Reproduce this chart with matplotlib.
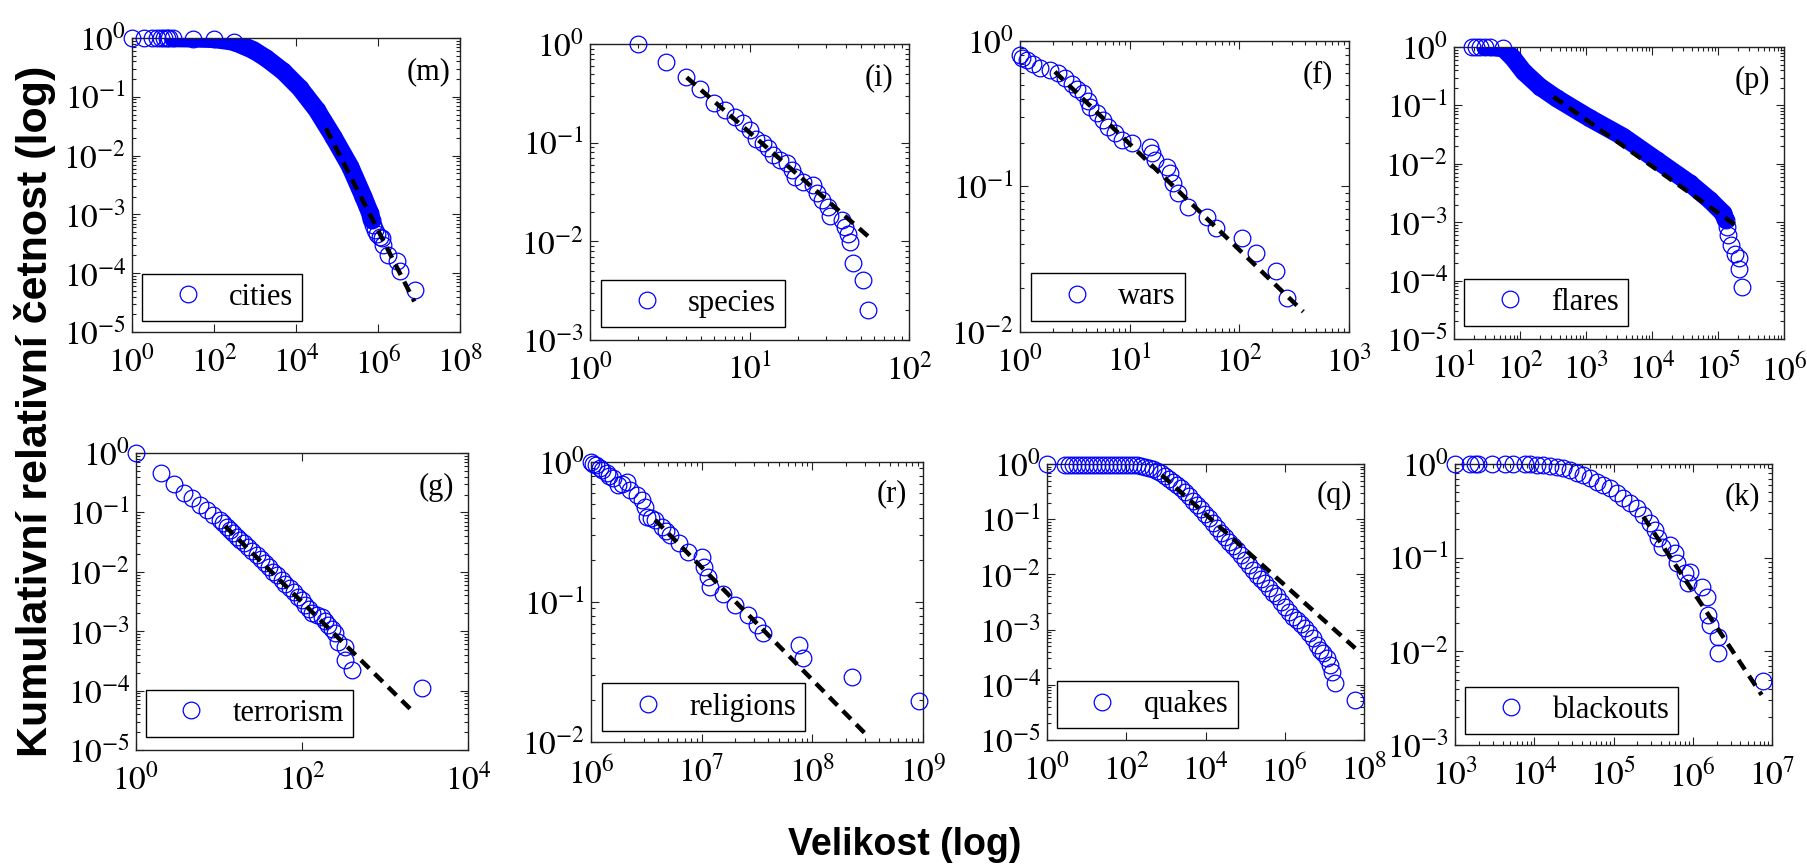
import numpy as np
import matplotlib
matplotlib.use("Agg")
import matplotlib.pyplot as plt
from matplotlib.lines import Line2D
from matplotlib.ticker import LogLocator, FuncFormatter, NullLocator

plt.rcParams['font.family'] = ['Liberation Serif', 'DejaVu Serif']
plt.rcParams['mathtext.fontset'] = 'stix'
plt.rcParams['mathtext.default'] = 'rm'

# cumulative distributions P(X >= x), read per data set
cities_x = [1, 2, 3, 4, 5, 6, 7, 8, 10, 30, 100, 300, 900, 1900, 4900, 12500, 32000, 81000,
            2.1e5, 4.4e5, 6.4e5, 7.0e5, 7.5e5, 8.5e5, 9.5e5, 1.1e6, 1.23e6, 1.35e6, 1.8e6,
            2.9e6, 3.5e6, 8.0e6]
cities_y = [1, 1, 1, 1, 1, 1, 1, 1, 0.99, 0.98, 0.96, 0.865, 0.625, 0.45, 0.27, 0.14, 0.06, 0.021,
            0.0065, 0.002, 0.00105, 8e-4, 6.5e-4, 5.4e-4, 4.6e-4, 4.2e-4, 3.9e-4, 3.0e-4, 2.0e-4,
            1.6e-4, 1.07e-4, 5.1e-5]
cities_fit_x = [5.4e4, 7.7e6]
cities_fit_y = [2.9e-2, 3.3e-5]

species_x = [2.0, 3.0, 4.0, 4.9, 6.0, 7.0, 8.1, 9.1, 10, 11, 12.2, 13.1, 14.1, 15.5, 17.1, 18.4,
             19.3, 21.7, 25.1, 26.4, 28.4, 31.2, 32, 37.8, 39.7, 41.7, 42.7, 44.8, 51.3, 55.6]
species_y = [1.0, 0.65, 0.46, 0.35, 0.255, 0.214, 0.18, 0.16, 0.134, 0.11, 0.099, 0.088, 0.075,
             0.067, 0.062, 0.053, 0.045, 0.040, 0.037, 0.031, 0.026, 0.0224, 0.018, 0.0165,
             0.0141, 0.012, 0.0099, 0.0061, 0.0041, 0.002]
species_fit_x = [4.04, 55.6]
species_fit_y = [0.459, 0.0112]

wars_x = [1.0, 1.04, 1.17, 1.32, 1.52, 1.88, 2.24, 2.57, 2.96, 3.29, 3.78, 4.2, 4.35, 5.0, 5.75,
          6.4, 7.3, 8.5, 10.4, 15.3, 15.9, 17, 21.7, 23.3, 25, 27.8, 34.2, 50.4, 61.2, 106, 141,
          216, 274]
wars_y = [0.80, 0.76, 0.74, 0.70, 0.65, 0.63, 0.60, 0.555, 0.51, 0.47, 0.44, 0.39, 0.35, 0.32,
          0.286, 0.258, 0.232, 0.209, 0.198, 0.188, 0.169, 0.152, 0.137, 0.123, 0.105, 0.0898,
          0.0727, 0.062, 0.0521, 0.044, 0.0347, 0.0264, 0.0172]
wars_fit_x = [2.08, 383]
wars_fit_y = [0.615, 0.0138]

flares_x = [18.5, 21.5, 25, 30, 35, 56, 79, 113, 200, 360, 1150, 3670, 11700, 37700, 75000,
            1.2e5, 1.3e5, 1.35e5, 1.43e5, 1.6e5, 1.8e5, 2.05e5, 2.05e5, 2.3e5]
flares_y = [1, 1, 1, 1, 1, 0.95, 0.64, 0.378, 0.209, 0.132, 0.060, 0.029, 0.0116, 0.0046,
            0.0024, 0.00142, 1.1e-3, 8.4e-4, 6.0e-4, 4.1e-4, 2.9e-4, 2.4e-4, 1.6e-4, 7.9e-5]
flares_fit_x = [320, 2.15e5]
flares_fit_y = [0.141, 7.9e-4]

terror_x = [1, 2.0, 2.9, 3.8, 4.7, 5.9, 7.1, 8.5, 10.3, 11.2, 12.4, 13.6, 14.9, 16.3, 17.9, 20,
            22.6, 25, 28.4, 32, 35.8, 40, 45.2, 50, 56.9, 63, 71.7, 80, 90.3, 100, 109, 120, 131,
            150, 173, 190, 208, 230, 250, 274, 330, 330, 397, 2770]
terror_y = [1, 0.466, 0.30, 0.215, 0.172, 0.133, 0.11, 0.090, 0.0745, 0.066, 0.0575, 0.051,
            0.0445, 0.039, 0.0343, 0.030, 0.0265, 0.022, 0.0192, 0.0165, 0.0139, 0.012, 0.010,
            0.0087, 0.00728, 0.0062, 0.00527, 0.0046, 0.00381, 0.0033, 0.00276, 0.0024, 0.002,
            0.0019, 0.00176, 0.0015, 0.00127, 0.0011, 9.2e-4, 6.7e-4, 5.5e-4, 3.3e-4, 2.2e-4,
            1.12e-4]
terror_fit_x = [11.8, 2300]
terror_fit_y = [0.059, 4.1e-5]

religions_x = [1.01e6, 1.05e6, 1.12e6, 1.2e6, 1.25e6, 1.39e6, 1.45e6, 1.59e6, 1.77e6, 1.9e6,
               2.1e6, 2.25e6, 2.59e6, 2.87e6, 3.08e6, 3.19e6, 3.5e6, 3.8e6, 4.35e6, 4.8e6,
               5.2e6, 6.2e6, 7.6e6, 1.0e7, 1.04e7, 1.15e7, 1.19e7, 1.57e7, 2.0e7, 2.64e7,
               3.14e7, 3.6e7, 7.5e7, 8.3e7, 2.3e8, 9.2e8]
religions_y = [1.0, 0.97, 0.95, 0.91, 0.877, 0.83, 0.79, 0.764, 0.685, 0.70, 0.72, 0.63, 0.58,
               0.535, 0.48, 0.407, 0.40, 0.385, 0.345, 0.32, 0.30, 0.262, 0.229, 0.211, 0.179,
               0.152, 0.129, 0.115, 0.095, 0.0807, 0.0685, 0.0598, 0.0493, 0.0396, 0.0293,
               0.0196]
religions_fit_x = [3.8e6, 3.1e8]
religions_fit_y = [0.385, 0.0112]

quakes_x = [1, 2.85, 3.66, 4.6, 5.8, 7.4, 9.3, 11.7, 14.8, 18.6, 23.5, 29.7, 37.5, 47.3, 59.7,
            75.3, 95, 120, 151, 191,
            240, 303, 383, 483, 610, 770, 970, 1225, 1550, 1950,
            2460, 3100, 3930, 4950, 6240, 7870, 9930, 12500, 15800, 19900,
            25100, 31700, 40000, 50400, 63600, 80200, 1.01e5, 1.28e5, 1.61e5, 2.03e5,
            2.56e5, 3.23e5, 4.07e5, 5.13e5, 6.5e5, 8.2e5, 1.03e6, 1.3e6, 1.65e6, 2.08e6,
            2.62e6, 3.3e6, 4.17e6, 5.26e6, 6.4e6, 7.8e6, 9.5e6, 1.15e7, 1.4e7, 1.55e7,
            1.87e7, 6.0e7]
quakes_y = [1.0, 0.97, 0.97, 0.97, 0.97, 0.97, 0.97, 0.97, 0.97, 0.97, 0.97, 0.97, 0.97, 0.97,
            0.97, 0.97, 0.97, 0.97, 0.96, 0.95,
            0.93, 0.89, 0.85, 0.80, 0.74, 0.68, 0.60, 0.53, 0.47, 0.41,
            0.36, 0.31, 0.265, 0.215, 0.178, 0.15, 0.126, 0.105, 0.085, 0.069,
            0.056, 0.047, 0.039, 0.033, 0.028, 0.0225, 0.018, 0.0148, 0.012, 0.0098,
            0.0082, 0.0069, 0.0056, 0.00455, 0.0040, 0.0032, 0.0026, 0.0021, 0.0017, 0.0015,
            0.00126, 0.00105, 8.5e-4, 6.9e-4, 5.2e-4, 4.3e-4, 3.7e-4, 3.0e-4, 2.3e-4, 1.7e-4,
            1.07e-4, 5.3e-5]
quakes_fit_x = [787, 6.0e7]
quakes_fit_y = [0.632, 4.6e-4]

blackouts_x = [1000, 1550, 1790, 1970, 2900, 4280, 5450, 7640, 8840, 10700, 13000, 15800, 19200,
               23300, 28200, 34300, 41600, 50500, 61400, 74300, 90300, 1.1e5, 1.33e5, 1.61e5,
               1.96e5, 2.38e5, 2.89e5, 3.34e5, 3.67e5, 4.05e5, 5.16e5, 5.97e5, 6.27e5, 7.98e5,
               8.8e5, 9.2e5, 1.3e6, 1.5e6, 1.57e6, 1.65e6, 2.1e6, 2.1e6, 7.6e6]
blackouts_y = [1.0, 1.0, 1.0, 1.0, 1.0, 1.0, 1.0, 1.0, 0.99, 0.975, 0.968, 0.95, 0.935, 0.90,
               0.863, 0.81, 0.764, 0.703, 0.647, 0.597, 0.55, 0.486, 0.43, 0.38, 0.336, 0.286,
               0.233, 0.198, 0.161, 0.131, 0.137, 0.111, 0.087, 0.068, 0.053, 0.071, 0.049,
               0.0384, 0.0245, 0.0191, 0.0144, 0.0095, 0.0048]
blackouts_fit_x = [2.38e5, 7.4e6]
blackouts_fit_y = [0.274, 0.00343]

W, H = 1807, 867
BLUE = '#0000ff'

fig = plt.figure(figsize=(W / 100, H / 100), dpi=100)


def decade_label(v, pos):
    return r'$\mathrm{10^{%d}}$' % int(round(np.log10(v)))


def draw_panel(box, x, y, fit_x, fit_y, name, tag, xlim, ylim, xstep, leg_at, band=None):
    left, top, right, bottom = box
    ax = fig.add_axes([left / W, 1 - bottom / H, (right - left) / W, (bottom - top) / H])
    ax.set_xscale('log')
    ax.set_yscale('log')

    # very dense stretches of circles merge into a solid band
    if band is not None:
        ax.plot(x[band[0]:band[1]], y[band[0]:band[1]], color=BLUE, lw=13,
                solid_capstyle='round', solid_joinstyle='round', zorder=2)
    ax.plot(x, y, ls='none', marker='o', ms=12, mfc='none', mec=BLUE, mew=0.9,
            clip_on=False, zorder=3)
    ax.plot(fit_x, fit_y, color='black', lw=3.2, dashes=(2.6, 1.7), zorder=4)

    ax.set_xlim(*xlim)
    ax.set_ylim(*ylim)
    lo, hi = np.log10(xlim)
    ax.set_xticks(10.0 ** np.arange(lo, hi + 0.5, xstep))
    ax.set_yticks(10.0 ** np.arange(np.log10(ylim[0]), 0.5, 1))
    ax.xaxis.set_major_formatter(FuncFormatter(decade_label))
    ax.yaxis.set_major_formatter(FuncFormatter(decade_label))
    if xstep == 1:
        ax.xaxis.set_minor_locator(LogLocator(base=10, subs=np.arange(2, 10), numticks=50))
    else:
        ax.xaxis.set_minor_locator(NullLocator())
    ax.yaxis.set_minor_locator(LogLocator(base=10, subs=np.arange(2, 10), numticks=50))

    ax.tick_params(which='both', direction='in', top=True, right=True, width=0.8,
                   colors='#222222', labelcolor='black', labelsize=24)
    ax.tick_params(which='major', length=6)
    ax.tick_params(which='minor', length=3)
    ax.tick_params(axis='x', pad=10)
    ax.tick_params(axis='y', pad=4)
    for sp in ax.spines.values():
        sp.set_linewidth(1.0)
        sp.set_color('#222222')

    handle = Line2D([], [], ls='none', marker='o', ms=12, mfc='none', mec=BLUE, mew=0.9)
    leg = ax.legend([handle], [name], loc='lower left', bbox_to_anchor=leg_at,
                    borderaxespad=0, fancybox=False, framealpha=1, edgecolor='black',
                    fontsize=22, borderpad=0.3, handlelength=2.4, handletextpad=0.15)
    leg.get_frame().set_linewidth(1.0)
    leg.set_zorder(5)

    ax.text(0.905, 0.885, tag, transform=ax.transAxes, ha='center', va='center', fontsize=22)
    return ax


draw_panel((132, 38, 460, 332), cities_x, cities_y, cities_fit_x, cities_fit_y,
           'cities', '(m)', (1, 1e8), (1e-5, 1), 2, (0.03, 0.037), band=(8, 22))
draw_panel((590, 44, 909, 340), species_x, species_y, species_fit_x, species_fit_y,
           'species', '(i)', (1, 1e2), (1e-3, 1), 1, (0.034, 0.044))
draw_panel((1020, 41, 1349, 332), wars_x, wars_y, wars_fit_x, wars_fit_y,
           'wars', '(f)', (1, 1e3), (1e-2, 1), 1, (0.033, 0.039))
draw_panel((1454, 47, 1784, 339), flares_x, flares_y, flares_fit_x, flares_fit_y,
           'flares', '(p)', (10, 1e6), (1e-5, 1), 1, (0.03, 0.045), band=(3, 17))
draw_panel((136, 453, 468, 750), terror_x, terror_y, terror_fit_x, terror_fit_y,
           'terrorism', '(g)', (1, 1e4), (1e-5, 1), 2, (0.029, 0.043))
draw_panel((591, 462, 923, 742), religions_x, religions_y, religions_fit_x, religions_fit_y,
           'religions', '(r)', (1e6, 1e9), (1e-2, 1), 1, (0.034, 0.04))
draw_panel((1047, 464, 1364, 740), quakes_x, quakes_y, quakes_fit_x, quakes_fit_y,
           'quakes', '(q)', (1, 1e8), (1e-5, 1), 2, (0.03, 0.042))
draw_panel((1455, 464, 1772, 745), blackouts_x, blackouts_y, blackouts_fit_x, blackouts_fit_y,
           'blackouts', '(k)', (1e3, 1e7), (1e-3, 1), 1, (0.032, 0.039))

fig.text(35 / W, 1 - 411 / H, 'Kumulativní relativní četnost (log)', rotation=90,
         ha='center', va='center', fontsize=31, family='Liberation Sans', weight='bold')
fig.text(905 / W, 1 - 845 / H, 'Velikost (log)', ha='center', va='center',
         fontsize=27, family='Liberation Sans', weight='bold')

fig.savefig('out.png', dpi=100)
